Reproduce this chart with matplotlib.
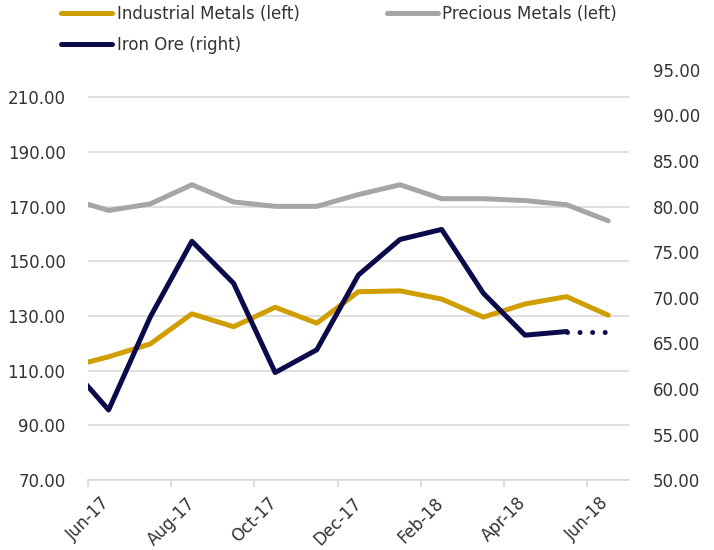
import numpy as np
import matplotlib
matplotlib.use("Agg")
import matplotlib.pyplot as plt

plt.rcParams["font.family"] = ["DejaVu Sans"]

# Data (mid-month readings, May-17 .. Jun-18)
months = ["May-17", "Jun-17", "Jul-17", "Aug-17", "Sep-17", "Oct-17", "Nov-17",
          "Dec-17", "Jan-18", "Feb-18", "Mar-18", "Apr-18", "May-18", "Jun-18"]
industrial = [111.2, 115.1, 119.8, 130.8, 126.1, 133.2, 127.4,
              138.9, 139.2, 136.2, 129.6, 134.4, 137.1, 130.3]
precious = [173.1, 168.6, 171.0, 178.0, 171.7, 170.1, 170.1,
            174.4, 178.0, 172.9, 172.9, 172.2, 170.7, 164.8]
iron_ore = [62.9, 57.7, 67.9, 76.2, 71.6, 61.8, 64.3,
            72.5, 76.4, 77.5, 70.5, 65.9, 66.3, 66.3]
n_actual_iron = 13  # last point is a projection (dotted)

tick_labels = ["Jun-17", "Aug-17", "Oct-17", "Dec-17", "Feb-18", "Apr-18", "Jun-18"]

GOLD = "#D09E00"
GREY = "#A6A6A6"
NAVY = "#0B0B4B"
TXT = "#333333"

x = np.arange(len(months)) - 0.5

fig = plt.figure(figsize=(7.14, 5.5), dpi=100)
ax = fig.add_axes([0.123, 0.127, 0.758, 0.746])
ax2 = ax.twinx()

l1, = ax.plot(x, industrial, color=GOLD, lw=3.6, solid_capstyle="round",
              label="Industrial Metals (left)")
l2, = ax.plot(x, precious, color=GREY, lw=3.6, solid_capstyle="round",
              label="Precious Metals (left)")
l3, = ax2.plot(x[:n_actual_iron], iron_ore[:n_actual_iron], color=NAVY, lw=3.6,
               solid_capstyle="round", label="Iron Ore (right)")
ax2.plot(x[n_actual_iron - 1:], iron_ore[n_actual_iron - 1:], color=NAVY, lw=3.6,
         linestyle=(0, (0.01, 2.5)), dash_capstyle="round")

ax.set_xlim(0, 13)
ax.set_ylim(70, 220)
ax2.set_ylim(50, 95)
ax.set_yticks(np.arange(70, 211, 20))
ax2.set_yticks(np.arange(50, 96, 5))
ax.yaxis.set_major_formatter(matplotlib.ticker.FormatStrFormatter("%.2f"))
ax2.yaxis.set_major_formatter(matplotlib.ticker.FormatStrFormatter("%.2f"))

ax.set_xticks(np.arange(0, 13, 2))
ax.set_xticklabels(tick_labels, rotation=45, ha="center")

ax.grid(axis="y", color="#D9D9D9", lw=1.2)
ax.set_axisbelow(True)

for a in (ax, ax2):
    for s in a.spines.values():
        s.set_visible(False)
ax.spines["bottom"].set_visible(True)
ax.spines["bottom"].set_color("#D9D9D9")
ax.spines["bottom"].set_linewidth(1.2)

ax.tick_params(axis="x", length=5, width=1.2, color="#D9D9D9", labelsize=12,
               labelcolor=TXT, pad=5)
ax.tick_params(axis="y", length=0, labelsize=12, labelcolor=TXT, pad=16)
ax2.tick_params(axis="y", length=0, labelsize=12, labelcolor=TXT, pad=17)

fig.legend(handles=[l1, l3, l2], loc="upper left", bbox_to_anchor=(0.086, 0.991),
           ncol=2, frameon=False, fontsize=12, handlelength=3.05,
           handletextpad=0.27, columnspacing=5.25, labelspacing=0.8,
           borderpad=0, borderaxespad=0, labelcolor=TXT)

fig.savefig("out.png", dpi=100)
